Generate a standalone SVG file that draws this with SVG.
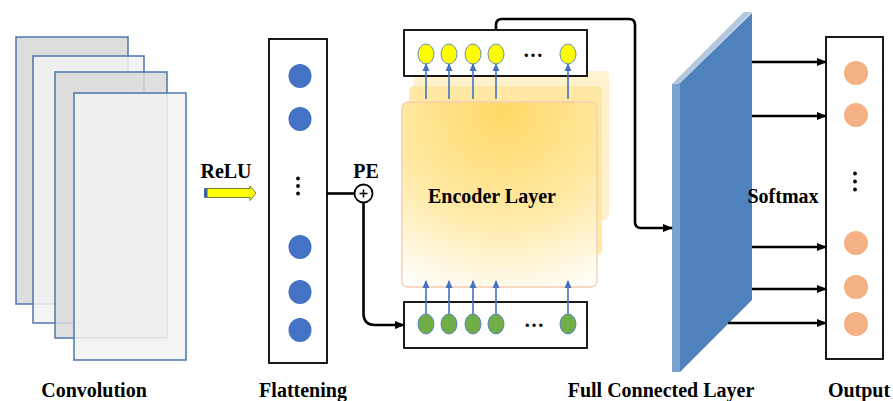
<svg xmlns="http://www.w3.org/2000/svg" width="893" height="401" viewBox="0 0 893 401">
<defs>
<style>
.lbl{font-family:"Liberation Serif","Times New Roman",serif;font-weight:bold;font-size:20px;fill:#000}
.conv{stroke:#4a78a8;stroke-width:1.5}
.box{fill:#fff;stroke:#000;stroke-width:1.8}
.blk{fill:none;stroke:#000;stroke-width:2.6}
.blu{fill:none;stroke:#4472c4;stroke-width:1.6}
.dot{fill:#000}
</style>
<marker id="ah" markerWidth="10" markerHeight="8" refX="9" refY="4" orient="auto" markerUnits="userSpaceOnUse">
<path d="M0,0 L10,4 L0,8 z" fill="#000"/>
</marker>
<marker id="bh" markerWidth="8" markerHeight="8" refX="7" refY="4" orient="auto" markerUnits="userSpaceOnUse">
<path d="M0,0.5 L8,4 L0,7.5 z" fill="#4472c4"/>
</marker>
<radialGradient id="enc" cx="0.52" cy="0.05" r="1.05" fx="0.52" fy="0.05">
<stop offset="0" stop-color="#ffd966"/>
<stop offset="0.55" stop-color="#ffeaa6"/>
<stop offset="1" stop-color="#ffffff"/>
</radialGradient>
</defs>
<rect width="893" height="401" fill="#fff"/>

<g id="convolution">
<rect class="conv" x="16" y="37" width="112" height="267" fill="#d9d9d9" fill-opacity="0.9"/>
<rect class="conv" x="33" y="56" width="111" height="267" fill="#f2f2f2" fill-opacity="0.85"/>
<rect class="conv" x="55" y="72" width="112" height="266" fill="#d9d9d9" fill-opacity="0.85"/>
<rect class="conv" x="74" y="93" width="112" height="267" fill="#f2f2f2" fill-opacity="0.85"/>
<text class="lbl" x="94" y="397" text-anchor="middle">Convolution</text>
</g>

<g id="relu">
<text class="lbl" x="226" y="178" text-anchor="middle">ReLU</text>
<polygon points="205,188.5 250,188.5 250,186 256,193 250,200.5 250,197.5 205,197.5" fill="#ffff00" stroke="#6d7f3a" stroke-width="1"/>
<rect x="204" y="188.5" width="3.5" height="9" fill="#3f5fa8"/>
</g>

<g id="flattening">
<rect class="box" x="269" y="39" width="58" height="324"/>
<ellipse cx="300" cy="76" rx="11.5" ry="12" fill="#4472c4"/>
<ellipse cx="300" cy="119" rx="11.5" ry="12" fill="#4472c4"/>
<circle class="dot" cx="298" cy="178.5" r="1.9"/>
<circle class="dot" cx="298" cy="186" r="1.9"/>
<circle class="dot" cx="298" cy="193.5" r="1.9"/>
<ellipse cx="300" cy="247" rx="11.5" ry="12" fill="#4472c4"/>
<ellipse cx="300" cy="292" rx="11.5" ry="12" fill="#4472c4"/>
<ellipse cx="300" cy="330" rx="11.5" ry="12" fill="#4472c4"/>
<text class="lbl" x="303" y="397" text-anchor="middle">Flattening</text>
</g>

<g id="pe">
<text class="lbl" x="366" y="178" text-anchor="middle">PE</text>
<circle cx="363.5" cy="193.5" r="9" fill="#fff" stroke="#000" stroke-width="1.8"/>
<path d="M359.5,193.5 H367.5 M363.5,189.5 V197.5" stroke="#000" stroke-width="1.5"/>
</g>

<g id="encoder">
<rect x="413" y="71" width="196" height="149" rx="5" fill="#fff2cc"/>
<rect x="409" y="86" width="193" height="169" rx="5" fill="#ffe699" fill-opacity="0.85"/>
<rect x="402" y="102" width="195" height="185" rx="6" fill="url(#enc)" stroke="#f8cbad" stroke-width="1.3"/>
<text class="lbl" x="492" y="203" text-anchor="middle">Encoder Layer</text>
</g>

<g id="encoder-output">
<rect class="box" x="404" y="30" width="183" height="46"/>
<g fill="#ffff00" stroke="#4472c4" stroke-width="0.8">
<ellipse cx="426" cy="54" rx="8" ry="10"/>
<ellipse cx="449" cy="54" rx="8" ry="10"/>
<ellipse cx="473" cy="54" rx="8" ry="10"/>
<ellipse cx="496" cy="54" rx="8" ry="10"/>
<ellipse cx="568" cy="54" rx="8" ry="10"/>
</g>
<text class="lbl" x="533" y="57" text-anchor="middle">…</text>
</g>

<g id="encoder-input">
<rect class="box" x="404" y="302" width="183" height="46"/>
<g fill="#70ad47" stroke="#4472c4" stroke-width="0.8">
<ellipse cx="426" cy="324" rx="8" ry="10"/>
<ellipse cx="449" cy="324" rx="8" ry="10"/>
<ellipse cx="473" cy="324" rx="8" ry="10"/>
<ellipse cx="496" cy="324" rx="8" ry="10"/>
<ellipse cx="568" cy="324" rx="8" ry="10"/>
</g>
<text class="lbl" x="534" y="327" text-anchor="middle">…</text>
</g>

<g id="full-connected">
<polygon points="680,83 752,13 752,300 680,372" fill="#4f81bd"/>
<polygon points="672,84 680,83 680,372 672,372" fill="#7ba3d2"/>
<polygon points="672,84 744,12 752,12 680,83" fill="#b4c7e0"/>
<text class="lbl" x="661" y="397" text-anchor="middle">Full Connected Layer</text>
<text class="lbl" x="783" y="203" text-anchor="middle">Softmax</text>
</g>

<g id="output">
<rect class="box" x="826" y="37" width="57" height="322"/>
<circle cx="856" cy="73" r="12" fill="#f4b183"/>
<circle cx="856" cy="115" r="12" fill="#f4b183"/>
<circle class="dot" cx="855" cy="173.5" r="1.9"/>
<circle class="dot" cx="855" cy="181.5" r="1.9"/>
<circle class="dot" cx="855" cy="189.5" r="1.9"/>
<circle cx="856" cy="243" r="12" fill="#f4b183"/>
<circle cx="856" cy="287" r="12" fill="#f4b183"/>
<circle cx="856" cy="324" r="12" fill="#f4b183"/>
<text class="lbl" x="859" y="397" text-anchor="middle">Output</text>
</g>

<g id="connectors">
<path class="blk" d="M327,193.5 H354.5"/>
<path class="blk" d="M363.5,202.5 V313 Q363.5,325 375,325 H404" marker-end="url(#ah)"/>
<path class="blk" d="M496,30 V25 Q496,19 502,19 H629 Q635,19 635,25 V222 Q635,228 641,228 H672" marker-end="url(#ah)"/>
<path class="blu" d="M426,99 V64" marker-end="url(#bh)"/>
<path class="blu" d="M449,99 V64" marker-end="url(#bh)"/>
<path class="blu" d="M473,99 V64" marker-end="url(#bh)"/>
<path class="blu" d="M496,99 V64" marker-end="url(#bh)"/>
<path class="blu" d="M568,99 V64" marker-end="url(#bh)"/>
<path class="blu" d="M426,314 V281" marker-end="url(#bh)"/>
<path class="blu" d="M449,314 V281" marker-end="url(#bh)"/>
<path class="blu" d="M473,314 V281" marker-end="url(#bh)"/>
<path class="blu" d="M496,314 V281" marker-end="url(#bh)"/>
<path class="blu" d="M568,314 V281" marker-end="url(#bh)"/>
<path class="blk" d="M752,62 H826" marker-end="url(#ah)"/>
<path class="blk" d="M752,116 H826" marker-end="url(#ah)"/>
<path class="blk" d="M752,247 H826" marker-end="url(#ah)"/>
<path class="blk" d="M752,289 H826" marker-end="url(#ah)"/>
<path class="blk" d="M728,323 H826" marker-end="url(#ah)"/>
</g>
</svg>
